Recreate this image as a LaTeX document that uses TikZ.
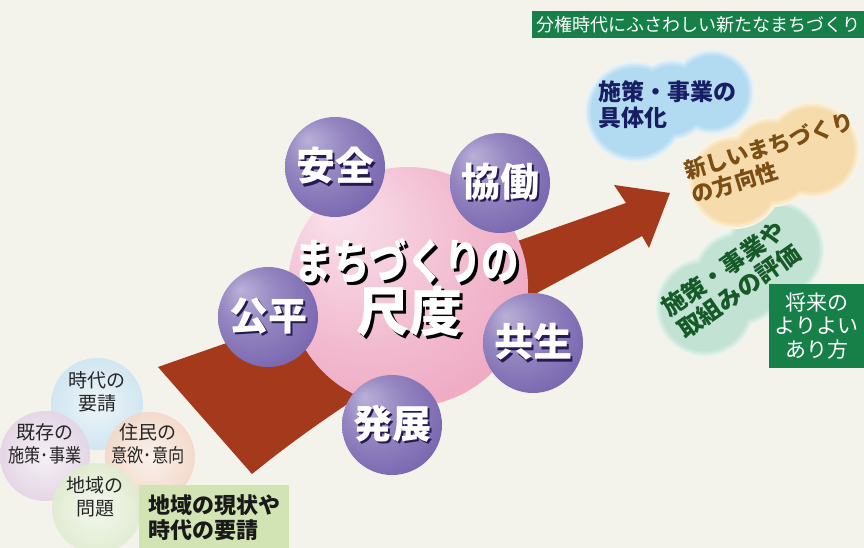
\documentclass[tikz,border=0pt]{standalone}
\usepackage{fontspec}
\setmainfont{Noto Sans CJK JP}
\newfontfamily\narrowjp{Noto Sans CJK JP}[FakeStretch=0.78]
\usepackage{tikz}
\usetikzlibrary{positioning}

\definecolor{paper}{RGB}{243,243,236}
\definecolor{arrowred}{RGB}{164,57,27}
\definecolor{ballhi}{RGB}{186,176,216}
\definecolor{ballmid}{RGB}{122,104,176}
\definecolor{balldark}{RGB}{62,46,124}
\definecolor{ballshadow}{RGB}{38,26,82}
\definecolor{pinkhi}{RGB}{249,226,236}
\definecolor{pinkmid}{RGB}{242,186,206}
\definecolor{pinkdeep}{RGB}{236,158,186}
\definecolor{pinkedge}{RGB}{226,136,146}
\definecolor{bubblue}{RGB}{205,229,242}
\definecolor{bublav}{RGB}{228,212,230}
\definecolor{bubpeach}{RGB}{244,216,200}
\definecolor{bubgreen}{RGB}{224,236,208}
\definecolor{labelgreen}{RGB}{210,228,180}
\definecolor{darkgreen}{RGB}{22,128,72}
\definecolor{blobblue}{RGB}{178,218,240}
\definecolor{blobbeige}{RGB}{246,220,172}
\definecolor{blobmint}{RGB}{194,226,212}
\definecolor{navytext}{RGB}{24,30,100}
\definecolor{browntext}{RGB}{122,78,20}
\definecolor{greentext}{RGB}{22,90,40}

\pgfdeclareradialshading{purpleball}{\pgfpoint{-14bp}{14bp}}{color(0bp)=(ballhi); color(14bp)=(ballmid!55!ballhi); color(32bp)=(ballmid); color(50bp)=(balldark)}
\pgfdeclareradialshading{pinkball}{\pgfpoint{-16bp}{16bp}}{color(0bp)=(pinkhi); color(22bp)=(pinkmid); color(42bp)=(pinkdeep); color(50bp)=(pinkedge)}

% text with a drop shadow behind it
\newcommand{\shadowed}[3][2.5pt]{\makebox[0pt][l]{\raisebox{-#1}{\hspace{#1}\textcolor{#2}{#3}}}#3}

% blob made of circles x/y/r, lighter towards the rim
\newcommand{\softblob}[2]{%
  \foreach \lv/\pc in {0/35,1.5/55,3/70,4.5/85,6/100}{
    \fill[#1!\pc!white] \foreach \cx/\cy/\cr in {#2}{ (\cx,\cy) circle[radius=\cr-\lv] };
  }}

\tikzset{ball/.style={circle,minimum size=100pt,inner sep=0pt,shading=purpleball,text=white,
                      font=\fontsize{39}{44}\selectfont\bfseries},
         bubble/.style={opacity=0.9},
         bubbletext/.style={align=center,inner sep=0pt,text=black!85,font=\fontsize{19}{23}\selectfont},
         blobtext/.style={align=left,inner sep=0pt,font=\fontsize{23}{26}\selectfont\bfseries},
         greenbox/.style={fill=darkgreen,text=white,inner sep=0pt}
}

\begin{document}
\begin{tikzpicture}[x=1pt,y=1pt]
\useasboundingbox (0,0) rectangle (864,-548);
\fill[paper] (0,0) rectangle (864,-548);

% current state bubbles
\shade[bubble,inner color=bubblue!35!white,outer color=bubblue] (97,-404) circle[radius=46];
\shade[bubble,inner color=bublav!35!white,outer color=bublav] (45,-456) circle[radius=45];
\shade[bubble,inner color=bubpeach!35!white,outer color=bubpeach] (150,-457) circle[radius=45];
\shade[bubble,inner color=bubgreen!35!white,outer color=bubgreen] (97,-508) circle[radius=45];
\node[bubbletext] (jidai) at (97,-392) {時代の\\要請};
\node[bubbletext] (kizon) at (45,-444) {既存の\\\scalebox{0.85}[1]{施策･事業}};
\node[bubbletext] (jumin) at (148,-444) {住民の\\\scalebox{0.85}[1]{意欲･意向}};
\node[bubbletext] (chiiki) at (95,-497) {地域の\\問題};
\node[fill=labelgreen,anchor=north west,minimum width=150pt,minimum height=64pt,inner sep=0pt,
      align=left,text=black!90,font=\fontsize{22}{25}\selectfont\bfseries] (genjo) at (139,-485)
      {地域の現状や\\時代の要請};

% big arrow
\fill[arrowred] (158,-367) -- (626,-203) -- (614,-185) -- (670,-193) -- (649,-248) -- (642,-236)
  .. controls (520,-304) and (380,-370) .. (252,-474) -- cycle;

% measure of town planning
\node[circle,minimum size=240pt,inner sep=0pt,shading=pinkball] (shakudo) at (408,-287) {};
\node[text=white,font=\narrowjp\fontsize{48}{52}\selectfont\bfseries] (machi) at (407,-262)
  {\shadowed[3pt]{black}{まちづくりの}};
\node[text=white,font=\fontsize{53}{56}\selectfont\bfseries] (shaku) at (409,-313)
  {\shadowed[3pt]{black}{尺度}};

\node[ball] (anzen) at (335,-167) {\shadowed{ballshadow}{安全}};
\node[ball] (kyodo) at (500,-183) {\shadowed{ballshadow}{協働}};
\node[ball] (kohei) at (268,-317) {\shadowed{ballshadow}{公平}};
\node[ball] (kyosei) at (533,-343) {\shadowed{ballshadow}{共生}};
\node[ball] (hatten) at (392,-425) {\shadowed{ballshadow}{発展}};

% new town planning
\node[greenbox,minimum width=332pt,minimum height=27pt,font=\fontsize{18}{20}\selectfont] (bunken)
  at (698,-24.5) {分権時代にふさわしい新たなまちづくり};

\softblob{blobblue}{635/-112/50,712/-92/42,672/-100/40}
\softblob{blobmint}{775/-250/50,705/-307/50,740/-278/48}
\softblob{blobbeige}{812/-150/48,735/-182/47,772/-162/45}

\node[blobtext,text=navytext,anchor=west] (gutaika) at (598,-105) {施策・事業の\\具体化};
\node[blobtext,text=browntext,rotate=17,font=\fontsize{22}{25}\selectfont\bfseries] (hoko)
  at (773,-158) {新しいまちづくり\\の方向性};
\node[blobtext,text=greentext,rotate=35,font=\fontsize{24}{27}\selectfont\bfseries] (hyoka)
  at (731,-280) {施策・事業や\\取組みの評価};

\node[greenbox,minimum width=95pt,minimum height=84pt,align=center,
      font=\fontsize{21}{23.5}\selectfont] (shorai) at (816.5,-326) {将来の\\よりよい\\あり方};

\end{tikzpicture}
\end{document}
